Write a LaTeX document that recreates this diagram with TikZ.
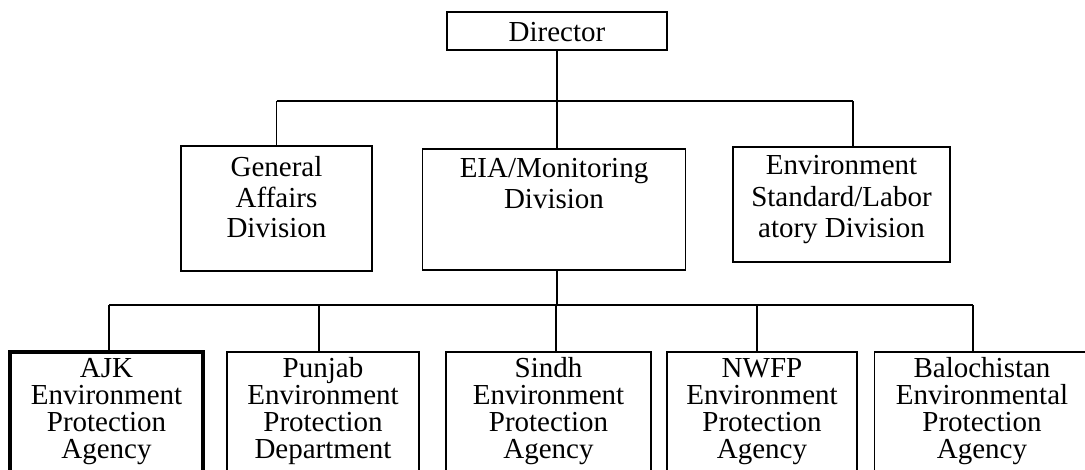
\documentclass[tikz,border=0pt]{standalone}
\usepackage{fontspec}
\setmainfont{Liberation Serif}
% text block of a box: width, height, first baseline, lines
\newcommand{\boxtext}[4]{\parbox[c][#2][t]{#1}{\centering\rule{0pt}{#3}#4\par}}
\begin{document}
\begin{tikzpicture}[x=1pt, y=-1pt,
    unit/.style={draw, line width=1.6pt, inner sep=0pt, font=\fontsize{29}{30.5}\selectfont},
    agency/.style={unit, font=\fontsize{29}{26.7}\selectfont},
    link/.style={line width=1.6pt}]
            \useasboundingbox (0,0) rectangle (1085,470);
            \clip (0,0) rectangle (1085,470);

            % Top and divisions
            \node at (557,31) [unit] (D) {\boxtext{220pt}{38pt}{30pt}{Director}};
            \node at (276.5,208.5) [unit] (G) {\boxtext{191pt}{125pt}{31pt}{General\\Affairs\\Division}};
            \node at (554,209.5) [unit] (E) {\boxtext{263pt}{121pt}{29pt}{EIA/Monitoring\\Division}};
            \node at (841.5,204.5) [unit, font=\fontsize{29}{31.5}\selectfont] (S) {\boxtext{217pt}{115pt}{28pt}{Environment\\Standard/Labor\\atory Division}};

            % Agencies
            \node at (106.5,412) [agency, line width=3.5pt] (AJK) {\boxtext{193pt}{120pt}{26pt}{AJK\\Environment\\Protection\\Agency}};
            \node at (323,412) [agency] (PB) {\boxtext{192pt}{120pt}{26pt}{Punjab\\Environment\\Protection\\Department}};
            \node at (548.5,412) [agency] (SD) {\boxtext{205pt}{120pt}{26pt}{Sindh\\Environment\\Protection\\Agency}};
            \node at (762,412) [agency] (NW) {\boxtext{190pt}{120pt}{26pt}{NWFP\\Environment\\Protection\\Agency}};
            \node at (982,412) [agency] (BL) {\boxtext{215pt}{120pt}{26pt}{Balochistan\\Environmental\\Protection\\Agency}};

            % Bars
            \coordinate (upbar) at (0,101);
            \coordinate (lowbar) at (0,305);

            % Lines
            \draw[link] (D.south) -- (D.south |- upbar);
            \draw[link] (G.north |- upbar) -- ([xshift=11.5pt]S.north |- upbar);
            \draw[link] (G.north) -- (G.north |- upbar);
            \draw[link] ([xshift=3pt]E.north) -- ([xshift=3pt]E.north |- upbar);
            \draw[link] ([xshift=11.5pt]S.north) -- ([xshift=11.5pt]S.north |- upbar);
            \draw[link] ([xshift=3pt]E.south) -- ([xshift=3pt]E.south |- lowbar);
            \draw[link] ([xshift=2.5pt]AJK.north |- lowbar) -- ([xshift=-9pt]BL.north |- lowbar);
            \draw[link] ([xshift=2.5pt]AJK.north) -- ([xshift=2.5pt]AJK.north |- lowbar);
            \draw[link] ([xshift=-4pt]PB.north) -- ([xshift=-4pt]PB.north |- lowbar);
            \draw[link] ([xshift=7.5pt]SD.north) -- ([xshift=7.5pt]SD.north |- lowbar);
            \draw[link] ([xshift=-5pt]NW.north) -- ([xshift=-5pt]NW.north |- lowbar);
            \draw[link] ([xshift=-9pt]BL.north) -- ([xshift=-9pt]BL.north |- lowbar);
\end{tikzpicture}
\end{document}
